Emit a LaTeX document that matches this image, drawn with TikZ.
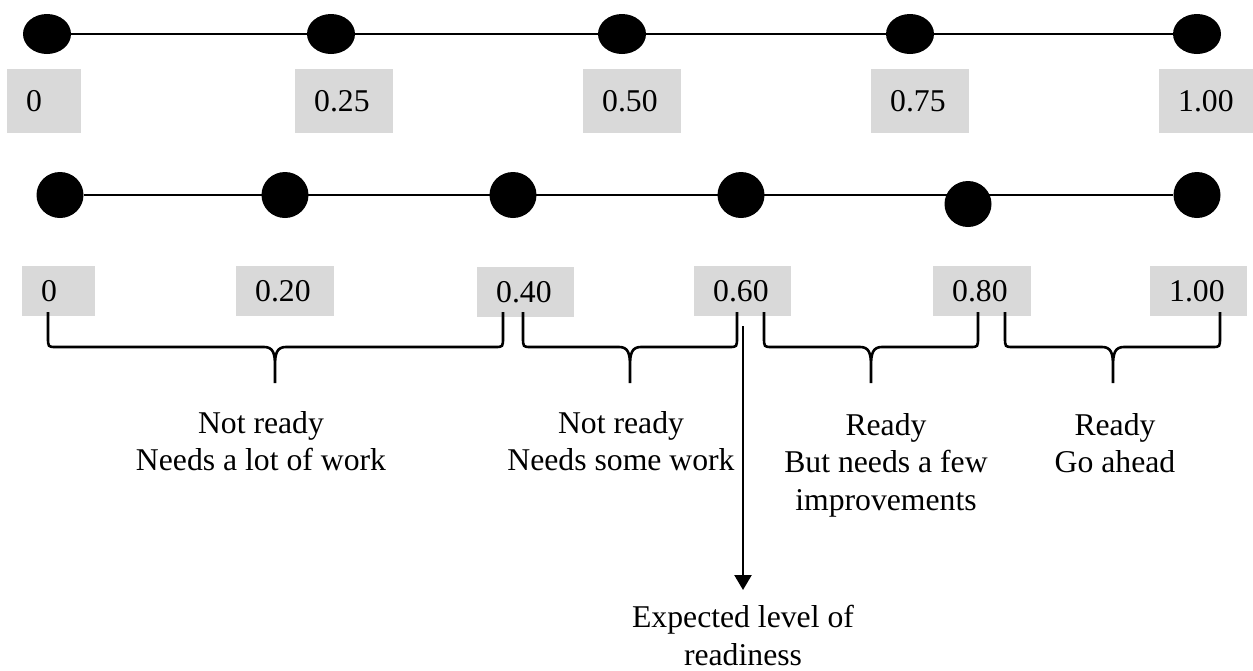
\documentclass[tikz,border=0pt]{standalone}
\usepackage{fontspec}
\setmainfont{Liberation Serif}
\usetikzlibrary{arrows.meta,shapes.geometric}
\definecolor{boxgray}{HTML}{D9D9D9}
\newcommand{\lblfont}{\fontsize{31.7pt}{37.5pt}\selectfont}

\begin{document}
\begin{tikzpicture}[
    x=1pt, y=-1pt,
    dot/.style={ellipse,fill=black,inner sep=0pt,minimum width=48pt,minimum height=40pt},
    bigdot/.style={dot,minimum width=47pt,minimum height=46pt},
    tick/.style={fill=boxgray,anchor=north west,inner xsep=19pt,inner ysep=0pt,text width=#1,align=left,font=\lblfont},
    upper/.style={tick=#1,minimum height=64pt},
    upper/.default=60pt,
    lower/.style={tick=#1,minimum height=50pt},
    lower/.default=59pt,
    note/.style={anchor=north,align=center,inner sep=0pt,font=\lblfont},
    axis/.style={line width=2.6pt},
    brc/.style={line width=2.6pt},
    arr/.style={-{Triangle[width=17pt,length=15pt]},line width=2.4pt}
  ]
  \useasboundingbox (0,0) rectangle (1253,670);
  % upper scale, quarters
  \node[dot] (q0) at (47,34) {};
  \node[dot] (q1) at (331,34) {};
  \node[dot] (q2) at (622,34) {};
  \node[dot] (q3) at (910,34) {};
  \node[dot] (q4) at (1197,34) {};
  \draw[axis] (q0) -- (q4);
  \node[upper=36pt] (t0) at (7,69) {0};
  \node[upper] (t25) at (295,69) {0.25};
  \node[upper] (t50) at (583,69) {0.50};
  \node[upper] (t75) at (871,69) {0.75};
  \node[upper=56pt] (t100) at (1159,69) {1.00};
  % lower scale, fifths
  \node[bigdot] (p0) at (60,195) {};
  \node[bigdot] (p1) at (285,195) {};
  \node[bigdot] (p2) at (513,195) {};
  \node[bigdot] (p3) at (741,195) {};
  \node[bigdot] (p4) at (968,204) {};
  \node[bigdot] (p5) at (1197,195) {};
  \draw[axis] (p0) -- (p5);
  \node[lower=35pt] (s0) at (22,266) {0};
  \node[lower=60pt] (s20) at (236,266) {0.20};
  \node[lower] (s40) at (477,267) {0.40};
  \node[lower] (s60) at (694,266) {0.60};
  \node[lower=60pt] (s80) at (933,266) {0.80};
  \node[lower] (s100) at (1150,266) {1.00};
  % braces
  \foreach \l/\m/\r in {48/275/503, 523/630/737, 764/871/978, 1005/1113/1220} {
    \draw[brc] (\l,312) -- (\l,337) .. controls (\l,347) .. (\l+8,347) -- (\m-11,347)
      .. controls (\m-2,347) and (\m,353) .. (\m,366) -- (\m,383)
      (\m,366) .. controls (\m,353) and (\m+2,347) .. (\m+11,347) -- (\r-8,347)
      .. controls (\r,347) .. (\r,337) -- (\r,312);
  }
  \node[note] (n1) at (261,411) {Not ready\\Needs a lot of work};
  \node[note] (n2) at (621,411) {Not ready\\Needs some work};
  \node[note] (n3) at (886,413) {Ready\\But needs a few\\improvements};
  \node[note] (n4) at (1115,413) {Ready\\Go ahead};
  % expected level
  \coordinate (mark) at (743,326);
  \node[note,inner sep=15pt] (expect) at (743,590) {Expected level of\\readiness};
  \draw[arr] (mark) -- (expect);
\end{tikzpicture}
\end{document}
